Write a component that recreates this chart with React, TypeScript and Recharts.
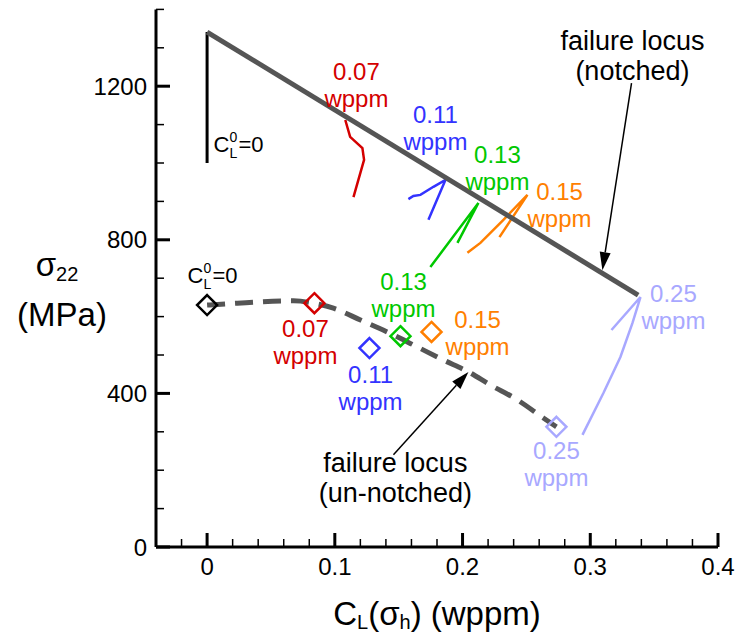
import React from "react";
import {
  ComposedChart,
  Line,
  Scatter,
  XAxis,
  YAxis,
  ReferenceLine,
  Label,
} from "recharts";

const RED = "#d40000";
const BLUE = "#3333ff";
const GREEN = "#00c800";
const ORANGE = "#ff7f00";
const LILAC = "#a8a8ff";
const GREY = "#555555";
const FONT = "'Liberation Sans', Arial, Helvetica, sans-serif";

const xMajorTicks = [0, 0.1, 0.2, 0.3, 0.4];
const xMinorTicks = [
  -0.02, 0.02, 0.04, 0.06, 0.08, 0.12, 0.14, 0.16, 0.18, 0.22, 0.24, 0.26,
  0.28, 0.32, 0.34, 0.36, 0.38,
];
const yMajorTicks = [0, 400, 800, 1200];
const yMinorTicks = [100, 200, 300, 500, 600, 700, 900, 1000, 1100, 1300, 1400];

// notched failure locus + the C_L^0 = 0 reference
const notchedLocus = [
  { x: 0, y: 1341 },
  { x: 0.3375, y: 656 },
];
const zeroHydrogen = [
  { x: 0, y: 1341 },
  { x: 0, y: 1000 },
];

// un-notched failure locus (dashed)
const unnotchedLocus = [
  { x: 0, y: 630 },
  { x: 0.0237, y: 635 },
  { x: 0.0676, y: 641 },
  { x: 0.0833, y: 635 },
  { x: 0.0989, y: 622 },
  { x: 0.1201, y: 591 },
  { x: 0.1459, y: 552 },
  { x: 0.1616, y: 526 },
  { x: 0.185, y: 487 },
  { x: 0.2046, y: 456 },
  { x: 0.2218, y: 422 },
  { x: 0.243, y: 383 },
  { x: 0.2633, y: 336 },
  { x: 0.2735, y: 313 },
];

// stress paths for each initial concentration
const path007 = [
  { x: 0.1082, y: 1112 },
  { x: 0.112, y: 1068 },
  { x: 0.1216, y: 1039 },
  { x: 0.1229, y: 1008 },
  { x: 0.1146, y: 911 },
];
const path011 = [
  { x: 0.1576, y: 906 },
  { x: 0.1615, y: 914 },
  { x: 0.167, y: 917 },
  { x: 0.1772, y: 938 },
  { x: 0.1866, y: 956 },
  { x: 0.1733, y: 852 },
];
const path013 = [
  { x: 0.1748, y: 729 },
  { x: 0.2124, y: 896 },
  { x: 0.196, y: 792 },
];
const path015 = [
  { x: 0.2038, y: 766 },
  { x: 0.214, y: 792 },
  { x: 0.232, y: 852 },
  { x: 0.2508, y: 917 },
  { x: 0.2289, y: 807 },
];
const path025 = [
  { x: 0.2939, y: 292 },
  { x: 0.3103, y: 401 },
  { x: 0.3236, y: 495 },
  { x: 0.333, y: 583 },
  { x: 0.3393, y: 651 },
  { x: 0.3166, y: 565 },
];

// un-notched failure points
const failurePoints = [
  { x: 0, y: 630, color: "#000" },
  { x: 0.084, y: 635, color: RED },
  { x: 0.1271, y: 518, color: BLUE },
  { x: 0.1514, y: 549, color: GREEN },
  { x: 0.1757, y: 560, color: ORANGE },
  { x: 0.2735, y: 313, color: LILAC },
];

const concLabels = [
  { x: 0.1169, y: 1204, text: "0.07", color: RED },
  { x: 0.1788, y: 1090, text: "0.11", color: BLUE },
  { x: 0.2273, y: 986, text: "0.13", color: GREEN },
  { x: 0.2759, y: 891, text: "0.15", color: ORANGE },
  { x: 0.3651, y: 624, text: "0.25", color: LILAC },
  { x: 0.077, y: 533, text: "0.07", color: RED },
  { x: 0.128, y: 413, text: "0.11", color: BLUE },
  { x: 0.1538, y: 655, text: "0.13", color: GREEN },
  { x: 0.2118, y: 556, text: "0.15", color: ORANGE },
  { x: 0.2735, y: 217, text: "0.25", color: LILAC },
];

const zeroLabels = [
  { x: 0.005, y: 1047 },
  { x: -0.0154, y: 706 },
];

const locusLabels = [
  { x: 0.333, y: 1279, line1: "failure locus", line2: "(notched)" },
  { x: 0.1474, y: 180, line1: "failure locus", line2: "(un-notched)" },
];

const notchedArrow = [
  { x: 0.3323, y: 1208 },
  { x: 0.3095, y: 721 },
];
const unnotchedArrow = [
  { x: 0.1459, y: 240 },
  { x: 0.2046, y: 456 },
];

const isMajorX = (v: number) => xMajorTicks.some((t) => Math.abs(t - v) < 1e-9);

function XTick({ x, y, payload }: any) {
  const major = isMajorX(payload.value);
  return (
    <g>
      <line
        x1={x}
        x2={x}
        y1={y}
        y2={y - (major ? 14 : 8)}
        stroke="#000"
        strokeWidth={major ? 3 : 1.5}
      />
      {major && (
        <text
          x={x}
          y={y + 19}
          textAnchor="middle"
          dominantBaseline="central"
          fontSize={24}
          fontFamily={FONT}
          fill="#000"
        >
          {String(payload.value)}
        </text>
      )}
    </g>
  );
}

function YTick({ x, y, payload }: any) {
  const major = yMajorTicks.includes(payload.value);
  return (
    <g>
      <line
        x1={x}
        x2={x + (major ? 14 : 8)}
        y1={y}
        y2={y}
        stroke="#000"
        strokeWidth={major ? 3 : 1.5}
      />
      {major && (
        <text
          x={x - 9}
          y={y}
          textAnchor="end"
          dominantBaseline="central"
          fontSize={24}
          fontFamily={FONT}
          fill="#000"
        >
          {payload.value}
        </text>
      )}
    </g>
  );
}

function Diamond({ cx, cy, payload }: any) {
  const s = 10;
  return (
    <path
      d={`M${cx},${cy - s}L${cx + s},${cy}L${cx},${cy + s}L${cx - s},${cy}Z`}
      fill="none"
      stroke={payload.color}
      strokeWidth={2.5}
    />
  );
}

// two lines, kept a little apart so their boxes don't touch
function ConcLabel({ cx, cy, payload }: any) {
  return (
    <g fontSize={24} fontFamily={FONT} fill={payload.color}>
      <text x={cx} y={cy - 13.5} textAnchor="middle" dominantBaseline="central">
        {payload.text}
      </text>
      <text x={cx} y={cy + 13.5} textAnchor="middle" dominantBaseline="central">
        wppm
      </text>
    </g>
  );
}

function ZeroLabel({ cx, cy }: any) {
  return (
    <g fontFamily={FONT} fill="#000">
      <text x={cx} y={cy} dominantBaseline="central" fontSize={22}>C</text>
      <text x={cx + 16} y={cy - 8} dominantBaseline="central" fontSize={14}>0</text>
      <text x={cx + 16} y={cy + 8} dominantBaseline="central" fontSize={14}>L</text>
      <text x={cx + 25} y={cy} dominantBaseline="central" fontSize={22}>=0</text>
    </g>
  );
}

function LocusLabel({ cx, cy, payload }: any) {
  return (
    <g fontSize={27} fontFamily={FONT} fill="#000">
      <text x={cx} y={cy - 15} textAnchor="middle" dominantBaseline="central">
        {payload.line1}
      </text>
      <text x={cx} y={cy + 15} textAnchor="middle" dominantBaseline="central">
        {payload.line2}
      </text>
    </g>
  );
}

function Arrow({ x1, y1, x2, y2 }: any) {
  const a = Math.atan2(y2 - y1, x2 - x1);
  const len = 18;
  const w = 5.5;
  const bx = x2 - len * Math.cos(a);
  const by = y2 - len * Math.sin(a);
  const px = -Math.sin(a) * w;
  const py = Math.cos(a) * w;
  return (
    <g>
      <line x1={x1} y1={y1} x2={bx} y2={by} stroke="#000" strokeWidth={1.5} />
      <path
        d={`M${x2},${y2}L${bx + px},${by + py}L${bx - px},${by - py}Z`}
        fill="#000"
      />
    </g>
  );
}

function XTitle({ viewBox }: any) {
  const cx = viewBox.x + viewBox.width / 2;
  return (
    <text
      x={cx}
      y={viewBox.y + 66}
      textAnchor="middle"
      dominantBaseline="central"
      fontSize={33}
      fontFamily={FONT}
      fill="#000"
    >
      <tspan>C</tspan>
      <tspan fontSize={20} dy={9}>L</tspan>
      <tspan dy={-9}>(σ</tspan>
      <tspan fontSize={20} dy={9}>h</tspan>
      <tspan dy={-9}>) (wppm)</tspan>
    </text>
  );
}

function YTitle() {
  return (
    <g fontFamily={FONT} fill="#000">
      <text x={57} y={264} textAnchor="middle" dominantBaseline="central" fontSize={33}>
        <tspan>σ</tspan>
        <tspan fontSize={20} dy={10}>22</tspan>
      </text>
      <text x={62} y={314} textAnchor="middle" dominantBaseline="central" fontSize={33}>
        (MPa)
      </text>
    </g>
  );
}

export default function App() {
  return (
    <div style={{ position: "absolute", left: 0, top: 0, background: "#fff" }}>
      <ComposedChart
        width={740}
        height={641}
        margin={{ top: 9.4, right: 22, bottom: 0, left: 0 }}
      >
        <XAxis
          dataKey="x"
          type="number"
          domain={[-0.04, 0.4]}
          allowDataOverflow
          ticks={[...xMinorTicks, ...xMajorTicks].sort((a, b) => a - b)}
          interval={0}
          tick={<XTick />}
          tickLine={false}
          tickSize={0}
          tickMargin={0}
          axisLine={{ stroke: "#000", strokeWidth: 3 }}
          height={94}
        >
          <Label content={<XTitle />} />
        </XAxis>
        <YAxis
          dataKey="y"
          type="number"
          domain={[0, 1400]}
          allowDataOverflow
          ticks={[...yMinorTicks, ...yMajorTicks].sort((a, b) => a - b)}
          interval={0}
          tick={<YTick />}
          tickLine={false}
          tickSize={0}
          tickMargin={0}
          axisLine={{ stroke: "#000", strokeWidth: 3 }}
          width={156}
        >
          <Label content={<YTitle />} />
        </YAxis>

        <Line data={path007} dataKey="y" type="linear" stroke={RED} strokeWidth={2.5} dot={false} isAnimationActive={false} />
        <Line data={path011} dataKey="y" type="linear" stroke={BLUE} strokeWidth={2.5} dot={false} isAnimationActive={false} />
        <Line data={path013} dataKey="y" type="linear" stroke={GREEN} strokeWidth={2.5} dot={false} isAnimationActive={false} />
        <Line data={path015} dataKey="y" type="linear" stroke={ORANGE} strokeWidth={2.5} dot={false} isAnimationActive={false} />
        <Line data={path025} dataKey="y" type="linear" stroke={LILAC} strokeWidth={2.5} dot={false} isAnimationActive={false} />

        <Line data={zeroHydrogen} dataKey="y" type="linear" stroke="#000" strokeWidth={3} dot={false} isAnimationActive={false} />
        <Line data={notchedLocus} dataKey="y" type="linear" stroke={GREY} strokeWidth={5} dot={false} isAnimationActive={false} />
        <Line
          data={unnotchedLocus}
          dataKey="y"
          type="monotone"
          stroke={GREY}
          strokeWidth={5}
          strokeDasharray="18 10"
          dot={false}
          isAnimationActive={false}
        />

        <Scatter data={failurePoints} dataKey="y" shape={<Diamond />} isAnimationActive={false} />
        <Scatter data={concLabels} dataKey="y" shape={<ConcLabel />} isAnimationActive={false} />
        <Scatter data={zeroLabels} dataKey="y" shape={<ZeroLabel />} isAnimationActive={false} />
        <Scatter data={locusLabels} dataKey="y" shape={<LocusLabel />} isAnimationActive={false} />

        <ReferenceLine segment={notchedArrow} ifOverflow="visible" shape={<Arrow />} />
        <ReferenceLine segment={unnotchedArrow} ifOverflow="visible" shape={<Arrow />} />
      </ComposedChart>
    </div>
  );
}
